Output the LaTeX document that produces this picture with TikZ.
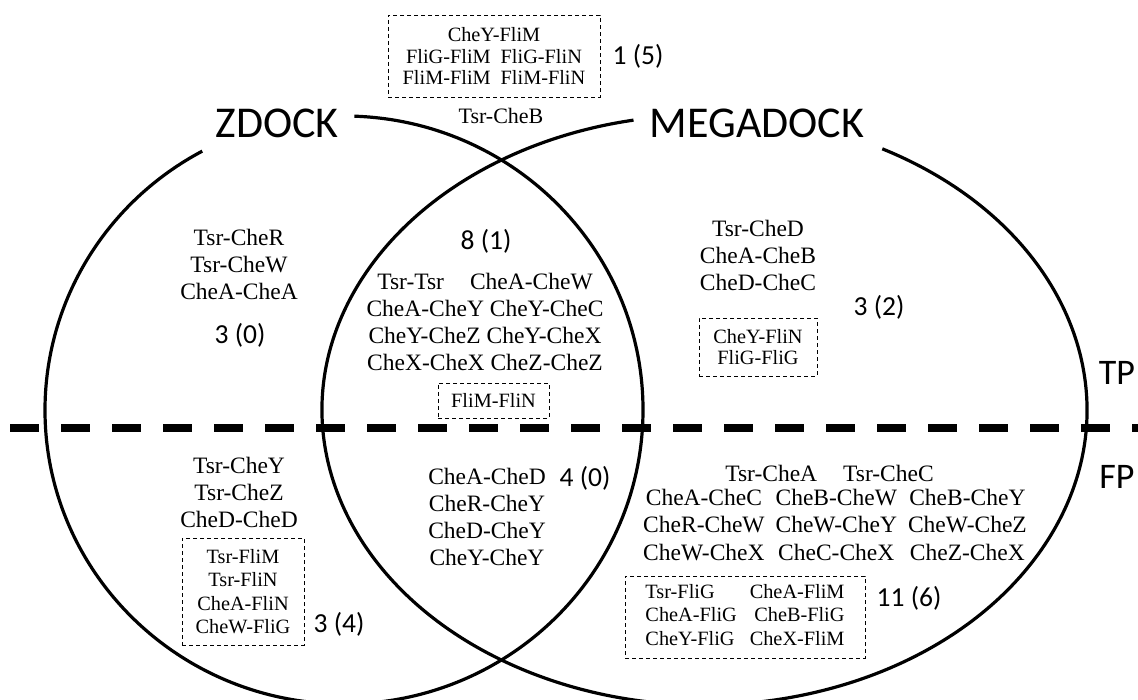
\documentclass[tikz,border=0pt]{standalone}
\usepackage{fontspec}
\setmainfont{Liberation Serif}
\newfontfamily\labfont{Carlito}
\begin{document}
\begin{tikzpicture}[x=1pt,y=-1pt,
  ring/.style={line width=3.2pt},
  itm/.style={font=\fontsize{23.5}{27.3}\selectfont, align=center, inner sep=0pt},
  bxt/.style={font=\fontsize{20.3}{23.3}\selectfont, align=center, inner sep=0pt},
  dbox/.style={draw, line width=0.9pt, dash pattern=on 4pt off 3pt},
  num/.style={font=\labfont\fontsize{27.5}{27.5}\selectfont, inner sep=0pt},
  ttl/.style={font=\labfont\fontsize{44}{44}\selectfont, inner sep=0pt},
  tpfp/.style={font=\labfont\fontsize{36}{36}\selectfont, inner sep=0pt},
  sepline/.style={line width=8pt, dash pattern=on 29pt off 22pt}]

\useasboundingbox (0,0) rectangle (1138,700);
\fill[white] (0,0) rectangle (1138,700);
\clip (0,0) rectangle (1138,700);

% the two sets
\draw[ring] ([shift={(272:299 and 294)}]344,410) arc[start angle=272, end angle=601.7, x radius=299, y radius=294];
\draw[ring] ([shift={(297.7:382.5 and 295)}]704.5,410) arc[start angle=297.7, end angle=619.3, x radius=382.5, y radius=295];

% TP / FP separator
\coordinate (sepA) at (10,428);
\coordinate (sepB) at (1150,428);
\draw[sepline] (sepA) -- (sepB);

% titles
\node[ttl] (zd) at (277,123) {ZDOCK};
\node[ttl] (md) at (757,123) {MEGADOCK};

% top (outside both)
\node[dbox, bxt, font=\fontsize{20.3}{21.8}\selectfont, minimum width=212pt, minimum height=82pt] (topbox) at (494,56)
  {CheY-FliM\\FliG-FliM\hspace{10pt}FliG-FliN\\FliM-FliM\hspace{10pt}FliM-FliN};
\node[num] (n15) at (638,56) {1 (5)};
\node[itm, font=\fontsize{22}{26}\selectfont] (tcb) at (501,116) {Tsr-CheB};

% ZDOCK only, TP
\node[itm] (zl) at (239,264.5) {Tsr-CheR\\Tsr-CheW\\CheA-CheA};
\node[num] (n30) at (240,335) {3 (0)};

% both, TP
\node[num] (n81) at (486,241) {8 (1)};
\node[itm, font=\fontsize{23.5}{27}\selectfont] (mid) at (485,321.5)
  {Tsr-Tsr\hspace{26pt}CheA-CheW\\CheA-CheY CheY-CheC\\CheY-CheZ CheY-CheX\\CheX-CheX CheZ-CheZ};
\node[dbox, bxt, minimum width=111pt, minimum height=35pt] (mbox) at (493.5,400.5) {FliM-FliN};

% MEGADOCK only, TP
\node[itm] (mr) at (758,255.5) {Tsr-CheD\\CheA-CheB\\CheD-CheC};
\node[num] (n32) at (879,307) {3 (2)};
\node[dbox, bxt, font=\fontsize{20.3}{21.5}\selectfont, minimum width=118pt, minimum height=58pt] (rbox) at (758,347) {CheY-FliN\\FliG-FliG};

% TP / FP labels
\node[tpfp] (tp) at (1117,373) {TP};
\node[tpfp] (fp) at (1117,477) {FP};

% ZDOCK only, FP
\node[itm, font=\fontsize{23.5}{27}\selectfont] (ll) at (239,492) {Tsr-CheY\\Tsr-CheZ\\CheD-CheD};
\node[dbox, bxt, minimum width=122pt, minimum height=107pt] (lbox) at (243,591.5) {Tsr-FliM\\Tsr-FliN\\CheA-FliN\\CheW-FliG};
\node[num] (n34) at (339,624) {3 (4)};

% both, FP
\node[itm, font=\fontsize{23.5}{27}\selectfont] (lm) at (487,516.5) {CheA-CheD\\CheR-CheY\\CheD-CheY\\CheY-CheY};
\node[num] (n40) at (585,478) {4 (0)};

% MEGADOCK only, FP
\node[itm] (lr1) at (829.5,473) {Tsr-CheA\hspace{26pt}Tsr-CheC};
\node[itm] (lr) at (835,527.5) {\setlength\tabcolsep{5.5pt}\begin{tabular}{@{}ccc@{}}CheA-CheC & CheB-CheW & CheB-CheY\\ CheR-CheW & CheW-CheY & CheW-CheZ\\ CheW-CheX & CheC-CheX & CheZ-CheX\end{tabular}};
\node[dbox, bxt, font=\fontsize{20.3}{23.5}\selectfont, minimum width=240pt, minimum height=82pt] (rlbox) at (745,617)
  {\setlength\tabcolsep{6.5pt}\begin{tabular}{@{}lr@{}}Tsr-FliG & CheA-FliM\\ CheA-FliG & CheB-FliG\\ CheY-FliG & CheX-FliM\end{tabular}};
\node[num] (n116) at (909,598) {11 (6)};
\end{tikzpicture}
\end{document}
